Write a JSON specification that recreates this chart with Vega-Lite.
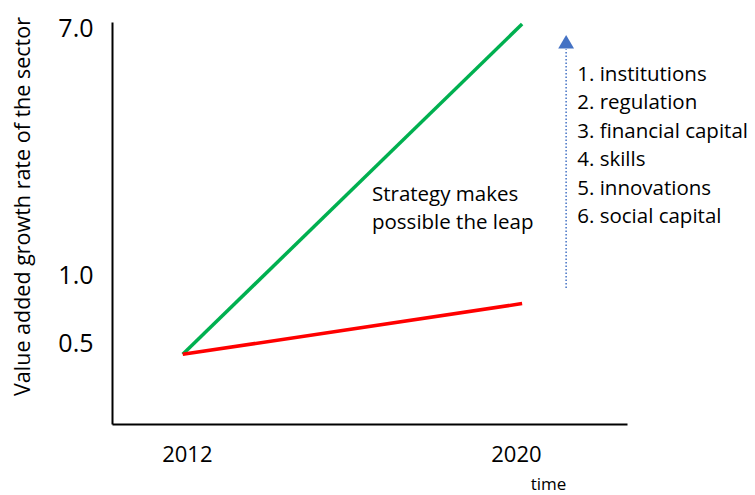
{
  "$schema": "https://vega.github.io/schema/vega-lite/v6.json",
  "width": 515,
  "height": 402,
  "autosize": "none",
  "padding": {"left": 112, "top": 22, "right": 128, "bottom": 71},
  "background": "white",
  "config": {"view": {"stroke": null}, "font": "Open Sans"},
  "encoding": {
    "x": {
      "field": "year", "type": "quantitative",
      "scale": {"domain": [2010.18, 2022.7], "nice": false, "zero": false},
      "axis": {
        "values": [2012, 2020], "format": "d", "ticks": false, "grid": false,
        "domainColor": "#000000", "domainWidth": 2,
        "labelFontSize": 22, "labelColor": "#000000", "labelPadding": 20,
        "title": "time", "titleFontSize": 17, "titleFontWeight": "normal", "titleColor": "#000000",
        "titleX": 436, "titleY": 60, "titleBaseline": "middle", "titleAlign": "center"
      }
    },
    "y": {
      "field": "value", "type": "quantitative",
      "scale": {"domain": [0, 0.5, 1, 7.15], "range": [402, 321, 253, 0], "nice": false, "zero": false},
      "axis": {
        "values": [0.5, 1, 7], "format": ".1f", "ticks": false, "grid": false,
        "domainColor": "#000000", "domainWidth": 2,
        "labelFontSize": 25, "labelColor": "#000000", "labelPadding": 19,
        "title": "Value added growth rate of the sector", "titleFontSize": 21.5, "titleFontWeight": "normal", "titleColor": "#000000",
        "titleX": -89, "titleY": 184, "titleAngle": -90, "titleBaseline": "middle", "titleAlign": "center"
      }
    }
  },
  "layer": [
    {
      "data": {"values": [
        {"series": "strategy", "year": 2011.9, "value": 0.43},
        {"series": "strategy", "year": 2020.15, "value": 7.1},
        {"series": "baseline", "year": 2011.9, "value": 0.43},
        {"series": "baseline", "year": 2020.15, "value": 0.79}
      ]},
      "mark": {"type": "line", "strokeWidth": 3.5},
      "encoding": {
        "color": {"field": "series", "type": "nominal", "scale": {"domain": ["strategy", "baseline"], "range": ["#00B050", "#FF0000"]}, "legend": null}
      }
    },
    {
      "data": {"values": [{"year": 2021.22, "value": 0.904, "value2": 6.49}]},
      "mark": {"type": "rule", "color": "#4472C4", "strokeWidth": 1.5, "strokeDash": [1.5, 2]},
      "encoding": {"y2": {"field": "value2"}}
    },
    {
      "data": {"values": [{"year": 2021.22, "value": 6.67}]},
      "mark": {"type": "point", "shape": "triangle-up", "size": 250, "filled": true, "color": "#4472C4", "opacity": 1},
      "encoding": {}
    },
    {
      "data": {"values": [
        {"year": 2021.49, "value": 5.86, "label": "1. institutions"},
        {"year": 2021.49, "value": 5.18, "label": "2. regulation"},
        {"year": 2021.49, "value": 4.48, "label": "3. financial capital"},
        {"year": 2021.49, "value": 3.80, "label": "4. skills"},
        {"year": 2021.49, "value": 3.09, "label": "5. innovations"},
        {"year": 2021.49, "value": 2.41, "label": "6. social capital"},
        {"year": 2016.50, "value": 2.945, "label": "Strategy makes"},
        {"year": 2016.50, "value": 2.264, "label": "possible the leap"}
      ]},
      "mark": {"type": "text", "align": "left", "baseline": "middle", "fontSize": 20.5, "color": "#000000"},
      "encoding": {"text": {"field": "label"}}
    }
  ]
}
